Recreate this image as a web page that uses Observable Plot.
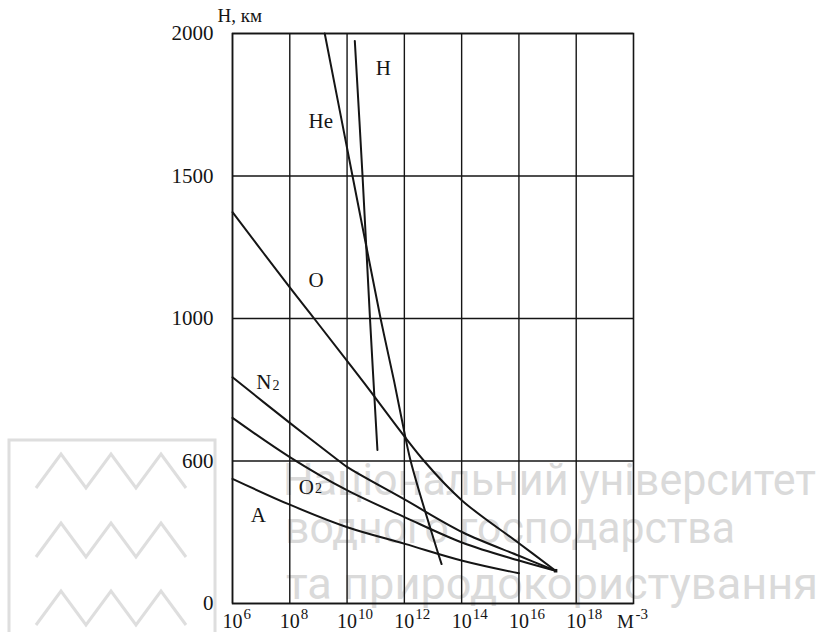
<!DOCTYPE html>
<html>
<head>
<meta charset="utf-8">
<script src="https://cdn.jsdelivr.net/npm/d3@7"></script>
<script src="https://cdn.jsdelivr.net/npm/@observablehq/plot@0.6"></script>
<style>
  html, body { margin: 0; padding: 0; background: #fff; }
  #wrap { position: relative; width: 835px; height: 632px; overflow: hidden; }
  #wm { position: absolute; left: 0; top: 0; z-index: 0; }
  #chart { position: absolute; left: 0; top: 0; z-index: 1; }
</style>
</head>
<body>
<div id="wrap">
  <svg id="wm" width="835" height="632" xmlns="http://www.w3.org/2000/svg">
    <g fill="none" stroke="#dedede" stroke-width="3">
      <rect x="9" y="440" width="206" height="200"/>
      <polyline points="36,488 61,454 86,488 111,454 136,488 161,454 186,488"/>
      <polyline points="36,557 61,523 86,557 111,523 136,557 161,523 186,557"/>
      <polyline points="36,625 61,591 86,625 111,591 136,625 161,591 186,625"/>
    </g>
    <g fill="#dadada" font-family="Roboto, 'Noto Sans', sans-serif" font-size="44">
      <text x="283" y="495" textLength="533" lengthAdjust="spacingAndGlyphs">Національний університет</text>
      <text x="285" y="543" textLength="450" lengthAdjust="spacingAndGlyphs">водного господарства</text>
      <text x="286" y="599" textLength="532" lengthAdjust="spacingAndGlyphs">та природокористування</text>
    </g>
  </svg>
  <div id="chart"></div>
</div>
<script>
// ---- axis ticks ----
const yTicks = [0, 600, 1000, 1500, 2000];
const yTickLabels = ["0", "600", "1000", "1500", "2000"];
const xDomain = [6, 20];                       // exponent of 10, м^-3
const xTickExps = [6, 8, 10, 12, 14, 16, 18];
const xTickBase = "10";
const xTickSups = ["6", "8", "10", "12", "14", "16", "18"];
const xUnitExp = 20;
const xUnitBase = "М";
const xUnitSup = "-3";
const yTitle = "H, км";

// ---- series: x = log10(n, м^-3), y = H, км ----
const heE = [9.22, 10.19, 10.69, 11.17, 11.64, 11.92, 12.22, 13.15, 13.30];
const heH = [2000, 1500, 1244, 1000, 825, 713, 600, 222, 166];

const hE = [10.27, 10.54, 10.80, 11.06];
const hH = [1974, 1500, 1000, 631];

const oE = [6, 8, 8.85, 10.54, 12.69, 14.02, 16, 17.28];
const oH = [1373, 1109, 1000, 825, 600, 433, 254, 138];

const n2E = [6, 8, 9.72, 10.01, 12.02, 14.03, 16, 17.28];
const n2H = [835, 707, 600, 574, 437, 300, 201, 138];

const o2E = [6, 8, 10.01, 12.02, 14.03, 16, 17.28];
const o2H = [721, 611, 476, 363, 256, 181, 138];

const aE = [6, 8, 10.01, 12.02, 14.03, 16];
const aH = [525, 416, 321, 251, 180, 127];

// ---- curve labels ----
const labelText = ["He", "H", "O", "N", "O", "A"];
const labelE = [9.08, 11.27, 8.92, 7.09, 8.58, 6.9];
const labelH = [1692, 1877, 1133, 820, 489, 370];
const subText = ["2", "2"];
const subE = [7.52, 9.0];
const subH = [811, 484];

const series = [
  {name: "He", e: heE, h: heH},
  {name: "H", e: hE, h: hH},
  {name: "O", e: oE, h: oH},
  {name: "N2", e: n2E, h: n2H},
  {name: "O2", e: o2E, h: o2H},
  {name: "A", e: aE, h: aH}
];
const lines = series.flatMap(s => s.e.map((e, i) => ({name: s.name, e, h: s.h[i]})));
const labels = labelText.map((t, i) => ({t, e: labelE[i], h: labelH[i]}));
const subs = subText.map((t, i) => ({t, e: subE[i], h: subH[i]}));
const yLab = yTicks.map((v, i) => ({v, t: yTickLabels[i]}));
const xLab = xTickExps.map((v, i) => ({v, sup: xTickSups[i]}));
const meet = [{e: oE[oE.length - 1], h: oH[oH.length - 1]}];

const W = 835, H = 632, mt = 33, mb = 29, ml = 232, mr = 202;
const yRange = yTicks.map((_, i) => (H - mb) - i * ((H - mb) - mt) / (yTicks.length - 1));
const ink = "#151515";

const chart = Plot.plot({
  width: W, height: H,
  marginTop: mt, marginBottom: mb, marginLeft: ml, marginRight: mr,
  x: {type: "linear", domain: xDomain, axis: null},
  y: {type: "linear", domain: yTicks, range: yRange, axis: null},
  style: {fontFamily: '"Liberation Serif", "Times New Roman", serif', background: "transparent", color: ink},
  marks: [
    Plot.ruleX(xTickExps, {stroke: ink, strokeWidth: 1.4}),
    Plot.ruleY(yTicks, {stroke: ink, strokeWidth: 1.4}),
    Plot.frame({stroke: ink, strokeWidth: 1.6}),
    Plot.line(lines, {x: "e", y: "h", z: "name", curve: "catmull-rom", stroke: ink, strokeWidth: 2}),
    Plot.dot(meet, {x: "e", y: "h", symbol: "square", r: 2, fill: ink}),
    // y tick labels
    Plot.text(yLab, {y: "v", text: "t", frameAnchor: "left", textAnchor: "end", lineAnchor: "middle", dx: -19, fontSize: 21, fill: ink}),
    // x tick labels: base and superscript
    Plot.text(xLab, {x: "v", text: () => xTickBase, frameAnchor: "bottom", lineAnchor: "middle", dy: 18, fontSize: 20, fill: ink}),
    Plot.text(xLab, {x: "v", text: "sup", frameAnchor: "bottom", textAnchor: "start", lineAnchor: "middle", dx: 11, dy: 11, fontSize: 15, fill: ink}),
    Plot.text([xUnitExp], {x: d => d, text: () => xUnitBase, frameAnchor: "bottom", lineAnchor: "middle", dx: -8, dy: 18, fontSize: 19, fill: ink}),
    Plot.text([xUnitExp], {x: d => d, text: () => xUnitSup, frameAnchor: "bottom", textAnchor: "start", lineAnchor: "middle", dx: 2, dy: 11, fontSize: 15, fill: ink}),
    // y title
    Plot.text([yTitle], {frameAnchor: "top-left", textAnchor: "start", lineAnchor: "bottom", dx: -15, dy: -12, fontSize: 19, fill: ink}),
    // curve labels
    Plot.text(labels, {x: "e", y: "h", text: "t", lineAnchor: "middle", fontSize: 21, fill: ink}),
    Plot.text(subs, {x: "e", y: "h", text: "t", lineAnchor: "middle", fontSize: 14, fill: ink})
  ]
});
document.getElementById("chart").appendChild(chart);
</script>
</body>
</html>
